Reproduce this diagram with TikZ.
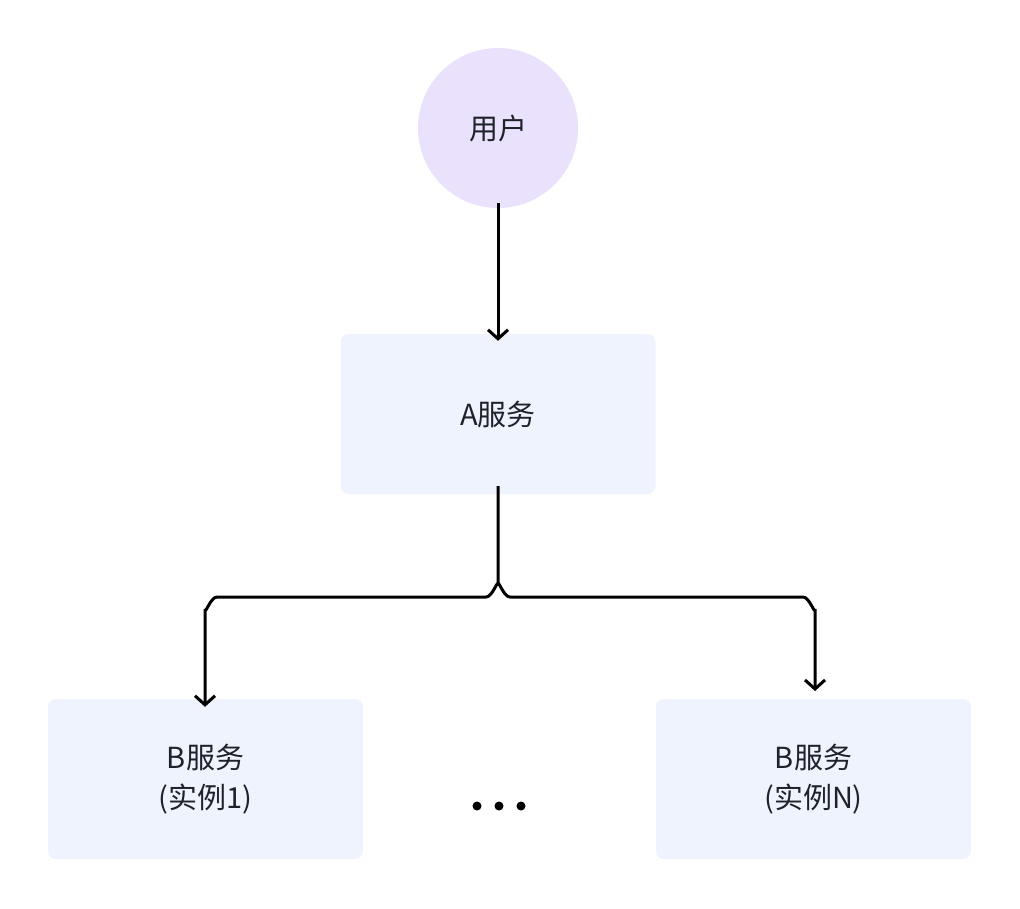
\documentclass[tikz,border=0pt]{standalone}
\usepackage{fontspec}
\setmainfont{Noto Sans CJK SC}
\usetikzlibrary{arrows.meta}
\definecolor{txt}{HTML}{1F2329}
\definecolor{circ}{HTML}{EAE1FD}
\definecolor{boxc}{HTML}{EFF3FD}
\begin{document}
\begin{tikzpicture}[x=1pt,y=-1pt,
  box/.style={draw=none,fill=boxc,rounded corners=8pt,minimum width=315pt,minimum height=160pt,text=txt,font=\fontsize{29}{40}\selectfont,align=center},
  conn/.style={draw=black,line width=3pt,-{Straight Barb[length=9pt,width=20pt,line width=3pt]}}]
\useasboundingbox (0,0) rectangle (1020,908);
\node[circle,fill=circ,minimum size=160pt,text=txt,font=\fontsize{29}{40}\selectfont] (u) at (498,128) {用户};
\node[box] (a) at (498,414) {A服务};
\node[box] (b1) at (205.5,779) {B服务\\(实例1)};
\node[box] (bn) at (813.5,779) {B服务\\(实例N)};
\coordinate (s) at (498,597);
\draw[conn] (u.south)++(0,-5) -- ([yshift=-7pt]a.north);
\draw[conn,rounded corners=0] ([yshift=8pt]a.south) -- (498,585) to[out=90,in=0] (486,597) -- (217,597) to[out=180,in=-90] (205,609) -- ([yshift=-8pt]b1.north -| 205,0);
\draw[conn] (498,585) to[out=90,in=180] (510,597) -- (803,597) to[out=0,in=-90] (815,609) -- (815,691);
\foreach \x in {477,499,521} \fill[black] (\x,806) circle (4.5pt);
\end{tikzpicture}
\end{document}
